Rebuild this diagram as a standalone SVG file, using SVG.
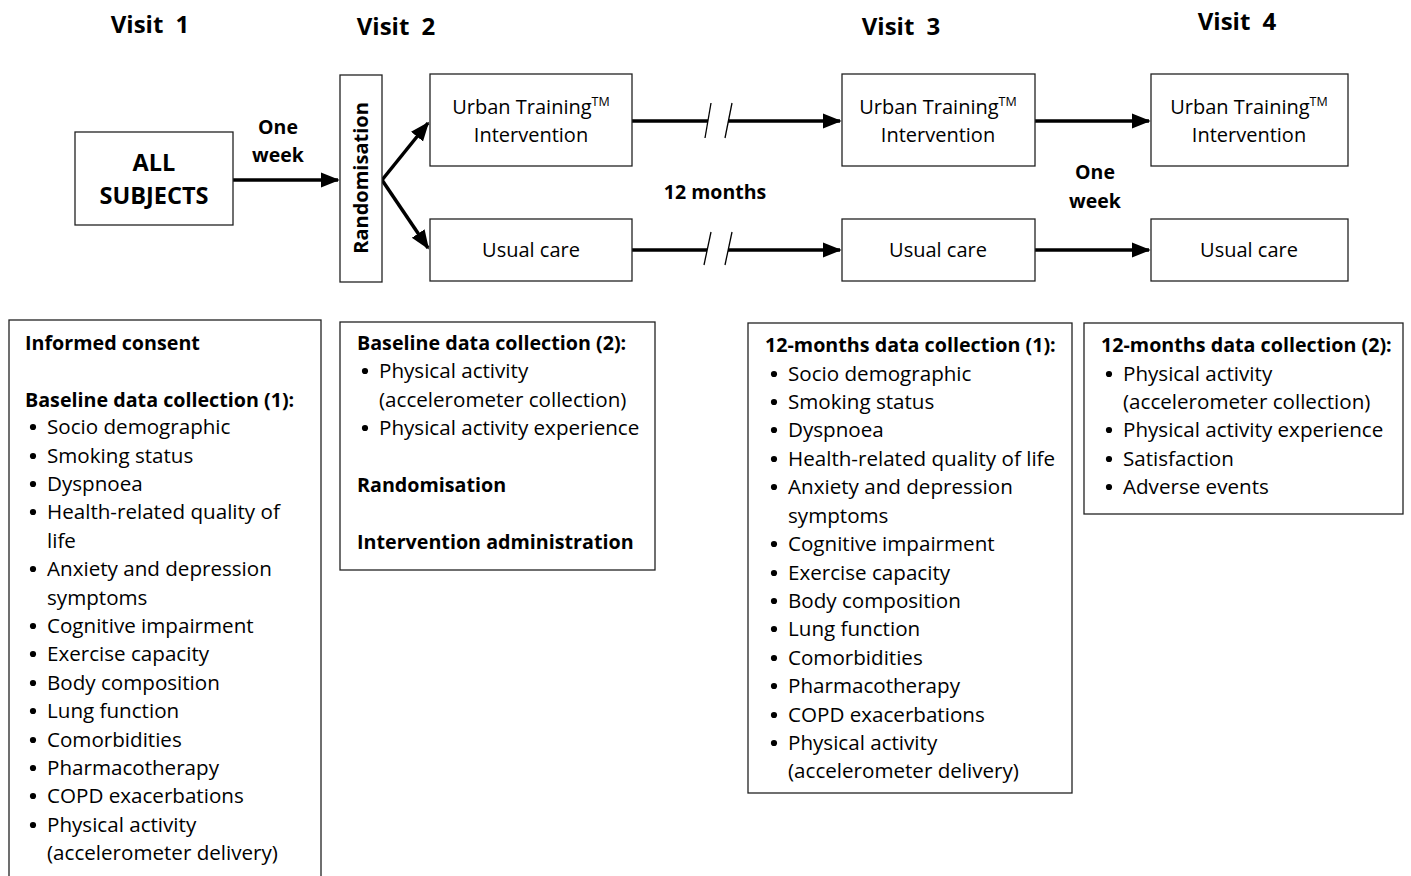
<svg xmlns="http://www.w3.org/2000/svg" xmlns:xlink="http://www.w3.org/1999/xlink" width="1411" height="876" viewBox="0 0 1411 876">
<style>
text{font-family:"Open Sans","Noto Sans","Liberation Sans",sans-serif;fill:#000}
.b{font-weight:bold}
.visit{font-size:24px;font-weight:bold;word-spacing:6px}
.lbl{font-size:19.5px;font-weight:bold;text-anchor:middle}
.node{fill:#fff;stroke:#222;stroke-width:1.3}
.nt{font-size:20px;text-anchor:middle}
.bt{font-size:20.6px}
.bh{font-size:19.7px;font-weight:bold}
.conn{stroke:#000;stroke-width:3.5;fill:none}
.brk{stroke:#000;stroke-width:1.3;fill:none}
</style>
<defs>
<marker id="ah" markerWidth="6" markerHeight="6" refX="5" refY="3" orient="auto" markerUnits="strokeWidth"><path d="M0,0.8 L5.5,3 L0,5.2 Z" fill="#000"/></marker>
<circle id="dot" cx="0" cy="-7" r="3.1" fill="#000"/>
</defs>

<g id="visit-labels">
<text class="visit" x="150" y="33" text-anchor="middle">Visit 1</text>
<text class="visit" x="396" y="35" text-anchor="middle">Visit 2</text>
<text class="visit" x="901" y="35" text-anchor="middle">Visit 3</text>
<text class="visit" x="1237" y="30" text-anchor="middle">Visit 4</text>
</g>

<g id="connectors">
<line class="conn" x1="233" y1="180" x2="338" y2="180" marker-end="url(#ah)"/>
<polyline class="conn" points="382,180 428,123" marker-end="url(#ah)"/>
<polyline class="conn" points="382,180 428,248" marker-end="url(#ah)"/>
<line class="conn" x1="632" y1="121" x2="708" y2="121"/>
<line class="conn" x1="728" y1="121" x2="840" y2="121" marker-end="url(#ah)"/>
<line class="brk" x1="705" y1="138" x2="711" y2="103"/>
<line class="brk" x1="725" y1="138" x2="732" y2="103"/>
<line class="conn" x1="632" y1="250" x2="707" y2="250"/>
<line class="conn" x1="728" y1="250" x2="840" y2="250" marker-end="url(#ah)"/>
<line class="brk" x1="704" y1="265" x2="711" y2="232"/>
<line class="brk" x1="725" y1="265" x2="732" y2="232"/>
<line class="conn" x1="1035" y1="121" x2="1149" y2="121" marker-end="url(#ah)"/>
<line class="conn" x1="1035" y1="250" x2="1149" y2="250" marker-end="url(#ah)"/>
<text class="lbl" x="278" y="134">One</text>
<text class="lbl" x="278" y="162">week</text>
<text class="lbl" x="715" y="199" font-size="20.5">12 months</text>
<text class="lbl" x="1095" y="179">One</text>
<text class="lbl" x="1095" y="208">week</text>
</g>

<g id="all-subjects">
<rect class="node" x="75" y="132" width="158" height="93"/>
<text class="b" x="154" y="171" font-size="23.5" text-anchor="middle">ALL</text>
<text class="b" x="154" y="204" font-size="23.5" text-anchor="middle">SUBJECTS</text>
</g>

<g id="randomisation">
<rect class="node" x="340" y="75" width="42" height="207"/>
<text class="b" x="0" y="0" font-size="20" text-anchor="middle" transform="translate(368,178) rotate(-90)">Randomisation</text>
</g>

<g id="urban-1">
<rect class="node" x="430" y="74" width="202" height="92"/>
<text class="nt" x="531" y="114">Urban Training<tspan font-size="12.5" dy="-8">TM</tspan></text>
<text class="nt" x="531" y="142">Intervention</text>
</g>
<g id="usual-1">
<rect class="node" x="430" y="219" width="202" height="62"/>
<text class="nt" x="531" y="257">Usual care</text>
</g>

<g id="urban-2">
<rect class="node" x="842" y="74" width="193" height="92"/>
<text class="nt" x="938" y="114">Urban Training<tspan font-size="12.5" dy="-8">TM</tspan></text>
<text class="nt" x="938" y="142">Intervention</text>
</g>
<g id="usual-2">
<rect class="node" x="842" y="219" width="193" height="62"/>
<text class="nt" x="938" y="257">Usual care</text>
</g>

<g id="urban-3">
<rect class="node" x="1151" y="74" width="197" height="92"/>
<text class="nt" x="1249" y="114">Urban Training<tspan font-size="12.5" dy="-8">TM</tspan></text>
<text class="nt" x="1249" y="142">Intervention</text>
</g>
<g id="usual-3">
<rect class="node" x="1151" y="219" width="197" height="62"/>
<text class="nt" x="1249" y="257">Usual care</text>
</g>

<g id="box-visit1">
<rect class="node" x="9" y="320" width="312" height="580"/>
<text class="bh" x="25" y="350">Informed consent</text>
<text class="bh" x="25" y="407">Baseline data collection (1):</text>
<use xlink:href="#dot" href="#dot" x="33" y="434"/>
<use xlink:href="#dot" href="#dot" x="33" y="463"/>
<use xlink:href="#dot" href="#dot" x="33" y="491"/>
<use xlink:href="#dot" href="#dot" x="33" y="519"/>
<use xlink:href="#dot" href="#dot" x="33" y="576"/>
<use xlink:href="#dot" href="#dot" x="33" y="633"/>
<use xlink:href="#dot" href="#dot" x="33" y="661"/>
<use xlink:href="#dot" href="#dot" x="33" y="690"/>
<use xlink:href="#dot" href="#dot" x="33" y="718"/>
<use xlink:href="#dot" href="#dot" x="33" y="747"/>
<use xlink:href="#dot" href="#dot" x="33" y="775"/>
<use xlink:href="#dot" href="#dot" x="33" y="803"/>
<use xlink:href="#dot" href="#dot" x="33" y="832"/>
<g class="bt">
<text x="47" y="434">Socio demographic</text>
<text x="47" y="463">Smoking status</text>
<text x="47" y="491">Dyspnoea</text>
<text x="47" y="519">Health-related quality of</text>
<text x="47" y="548">life</text>
<text x="47" y="576">Anxiety and depression</text>
<text x="47" y="605">symptoms</text>
<text x="47" y="633">Cognitive impairment</text>
<text x="47" y="661">Exercise capacity</text>
<text x="47" y="690">Body composition</text>
<text x="47" y="718">Lung function</text>
<text x="47" y="747">Comorbidities</text>
<text x="47" y="775">Pharmacotherapy</text>
<text x="47" y="803">COPD exacerbations</text>
<text x="47" y="832">Physical activity</text>
<text x="47" y="860">(accelerometer delivery)</text>
</g>
</g>

<g id="box-visit2">
<rect class="node" x="340" y="322" width="315" height="248"/>
<text class="bh" x="357" y="350">Baseline data collection (2):</text>
<use xlink:href="#dot" href="#dot" x="365" y="378"/>
<use xlink:href="#dot" href="#dot" x="365" y="435"/>
<g class="bt">
<text x="379" y="378">Physical activity</text>
<text x="379" y="407">(accelerometer collection)</text>
<text x="379" y="435">Physical activity experience</text>
</g>
<text class="bh" x="357" y="492">Randomisation</text>
<text class="bh" x="357" y="549">Intervention administration</text>
</g>

<g id="box-visit3">
<rect class="node" x="748" y="323" width="324" height="470"/>
<text class="bh" x="765" y="352">12-months data collection (1):</text>
<use xlink:href="#dot" href="#dot" x="774" y="381"/>
<use xlink:href="#dot" href="#dot" x="774" y="409"/>
<use xlink:href="#dot" href="#dot" x="774" y="437"/>
<use xlink:href="#dot" href="#dot" x="774" y="466"/>
<use xlink:href="#dot" href="#dot" x="774" y="494"/>
<use xlink:href="#dot" href="#dot" x="774" y="551"/>
<use xlink:href="#dot" href="#dot" x="774" y="580"/>
<use xlink:href="#dot" href="#dot" x="774" y="608"/>
<use xlink:href="#dot" href="#dot" x="774" y="636"/>
<use xlink:href="#dot" href="#dot" x="774" y="665"/>
<use xlink:href="#dot" href="#dot" x="774" y="693"/>
<use xlink:href="#dot" href="#dot" x="774" y="722"/>
<use xlink:href="#dot" href="#dot" x="774" y="750"/>
<g class="bt">
<text x="788" y="381">Socio demographic</text>
<text x="788" y="409">Smoking status</text>
<text x="788" y="437">Dyspnoea</text>
<text x="788" y="466">Health-related quality of life</text>
<text x="788" y="494">Anxiety and depression</text>
<text x="788" y="523">symptoms</text>
<text x="788" y="551">Cognitive impairment</text>
<text x="788" y="580">Exercise capacity</text>
<text x="788" y="608">Body composition</text>
<text x="788" y="636">Lung function</text>
<text x="788" y="665">Comorbidities</text>
<text x="788" y="693">Pharmacotherapy</text>
<text x="788" y="722">COPD exacerbations</text>
<text x="788" y="750">Physical activity</text>
<text x="788" y="778">(accelerometer delivery)</text>
</g>
</g>

<g id="box-visit4">
<rect class="node" x="1084" y="323" width="319" height="191"/>
<text class="bh" x="1101" y="352">12-months data collection (2):</text>
<use xlink:href="#dot" href="#dot" x="1109" y="381"/>
<use xlink:href="#dot" href="#dot" x="1109" y="437"/>
<use xlink:href="#dot" href="#dot" x="1109" y="466"/>
<use xlink:href="#dot" href="#dot" x="1109" y="494"/>
<g class="bt">
<text x="1123" y="381">Physical activity</text>
<text x="1123" y="409">(accelerometer collection)</text>
<text x="1123" y="437">Physical activity experience</text>
<text x="1123" y="466">Satisfaction</text>
<text x="1123" y="494">Adverse events</text>
</g>
</g>
</svg>
